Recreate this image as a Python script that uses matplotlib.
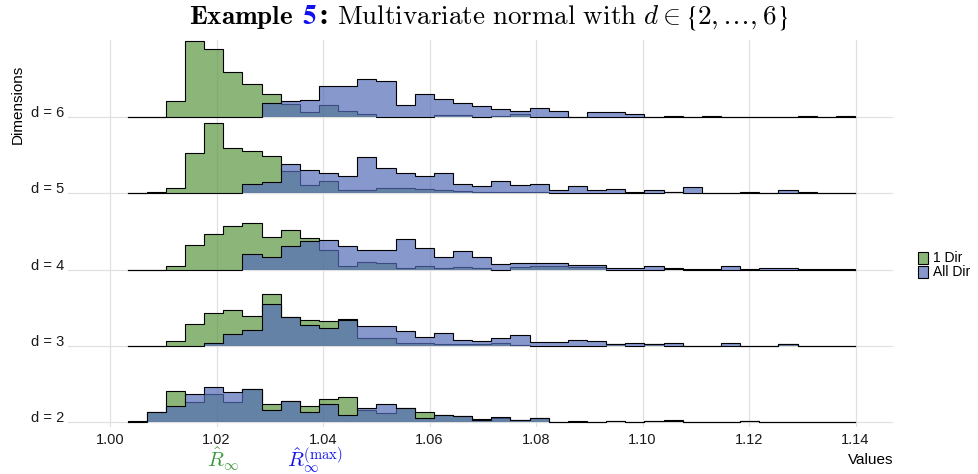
import numpy as np
import matplotlib
matplotlib.use("Agg")
import matplotlib.pyplot as plt
import matplotlib.transforms as mtransforms
from matplotlib.patches import Rectangle

plt.rcParams['font.family'] = ['Liberation Sans', 'DejaVu Sans']
plt.rcParams['mathtext.fontset'] = 'cm'

# histogram bins (shared by all ridges)
edges = np.linspace(1.0033, 1.1399, 39)

dims = ["d = 2", "d = 3", "d = 4", "d = 5", "d = 6"]
types = ["1 Dir", "All Dir"]

# bin heights, one list per dimension
one_dir = {
    "d = 2": [1, 10, 30.7, 19.7, 27.7, 19.7, 32.7, 17.7, 21, 16.3, 23, 24.7, 11.7, 9.3, 13.7, 10.3, 7.3, 6, 3.3,
              4.3, 2.3, 4.3, 0, 1, 0, 1, 0, 1, 2.3, 0, 0, 0, 1, 0, 0, 0, 0, 0],
    "d = 3": [0, 0, 5, 22, 33.3, 36, 29.7, 51.7, 29.3, 26.3, 24.7, 27, 8, 8, 3, 3, 1.7, 1.7, 1.7,
              2.7, 1, 0, 0, 0, 0, 2, 0, 2, 0, 0, 0, 0, 0, 0, 1.7, 0, 0, 0],
    "d = 4": [0, 0, 3.7, 25, 36, 44, 46.7, 33, 39.3, 31.7, 19.3, 3.7, 7.7, 6.7, 2, 4, 1.3, 2.3, 1.3,
              0, 2.7, 4, 4, 2.7, 2.7, 0, 0, 0, 1.7, 0, 0, 0, 0, 0, 0, 0, 0, 0],
    "d = 5": [0, 1.3, 5, 40.3, 70.3, 45.3, 42, 37.3, 22, 8, 12, 3.3, 3.3, 5, 5, 4, 3.3, 2, 1.3,
              1, 1, 1, 0, 0, 0, 0, 0, 0, 1.3, 0, 0, 0, 0, 0, 0, 0, 0, 0],
    "d = 6": [0, 0, 16, 76, 68.7, 45, 33, 23.7, 13.3, 5.3, 12.7, 6, 3.3, 0, 0, 0, 2.7, 2.7, 0,
              1.7, 3, 0, 0, 0, 0, 0, 0, 0, 0, 0, 0, 0, 0, 0, 0, 0, 0, 0],
}
all_dir = {
    "d = 2": [0, 10, 16.3, 27.7, 35.3, 30.3, 32.7, 11.7, 21, 10.3, 18, 7.3, 13.7, 18, 13.7, 4.3, 7.3, 6, 2.3,
              4.7, 2.3, 4.3, 0, 0, 0, 1, 0, 1, 1, 0, 0, 0, 1, 0, 0, 0, 0, 0],
    "d = 3": [0, 0, 0, 0, 3.3, 12.3, 15.7, 42.3, 28.7, 20.7, 17.7, 26.3, 20.3, 20.3, 15.3, 9.3, 13, 6.3, 5,
              8, 11, 3.7, 3.7, 6.3, 5, 2, 3.3, 2, 3.3, 0, 0, 3.3, 0, 0, 1.7, 0, 0, 0],
    "d = 4": [0, 0, 0, 0, 0, 0, 16, 13, 24, 28.7, 30, 24, 19.3, 19.3, 30.7, 21.3, 13, 19, 13,
              5.3, 6.7, 6.7, 6.7, 5, 5, 1.7, 1.7, 3.7, 1, 0.7, 0.7, 3.7, 0.7, 2, 2, 0.7, 0.7, 0.7],
    "d = 5": [0, 0, 0, 0, 0, 0, 9.3, 11, 29.3, 23.3, 20, 17.3, 36, 25.3, 20, 17.3, 20, 9, 7.7,
              12, 8, 9.3, 3, 7.7, 3, 4.7, 1.3, 3, 1.3, 6.7, 0, 0, 1.3, 0, 3, 1.3, 0, 0],
    "d = 6": [0, 0, 0, 0, 0, 0, 0, 14, 16, 17, 31.3, 31.3, 38.7, 36, 12.3, 23.7, 18.7, 14, 11,
              8, 6.3, 9.3, 6.7, 0, 5, 5, 3, 0, 1.7, 0, 1.7, 0, 0, 0, 0, 1.7, 0, 1.7],
}

xticks = [1.00, 1.02, 1.04, 1.06, 1.08, 1.10, 1.12, 1.14]
xticklabels = ["1.00", "1.02", "1.04", "1.06", "1.08", "1.10", "1.12", "1.14"]

green = "#5C9841"
blue = "#546CB9"
fill_cols = {"1 Dir": green, "All Dir": blue}
step = 76.2   # vertical distance between ridges

W, H = 979, 474
fig = plt.figure(figsize=(W / 100, H / 100), dpi=100)
ax = fig.add_axes([68 / W, 1 - 427 / H, (893 - 68) / W, (427 - 40) / H])

for i, d in enumerate(dims):
    base = i * step
    zb = 100 - i * 10
    for k, t in enumerate(types):
        h = np.array(one_dir[d] if t == "1 Dir" else all_dir[d], dtype=float)
        xs = np.repeat(edges, 2)
        ys = np.concatenate([[0], np.repeat(h, 2), [0]]) + base
        ax.fill(xs, ys, facecolor=fill_cols[t], alpha=0.7, edgecolor="none", zorder=zb + 2 * k)
        ax.plot(xs, ys, color="black", lw=0.8, zorder=zb + 2 * k + 1, solid_joinstyle="miter")

ax.set_xlim(1.0 - 42 / 5325, 1.0 + 783 / 5325)
ax.set_ylim(-5, 422 - 40)
ax.set_xticks(xticks)
ax.set_xticklabels(xticklabels)
ax.set_yticks([i * step for i in range(len(dims))])
ax.set_yticklabels(dims, va="baseline")
ax.tick_params(length=0, labelsize=10.5, colors="#1a1a1a", pad=4)
ax.tick_params(axis="y", pad=3)
ax.grid(True, color="#e0e0e0", lw=0.9, zorder=0)
ax.set_axisbelow(True)
for s in ax.spines.values():
    s.set_visible(False)

fig.text(18 / W, 1 - 104 / H, "Dimensions", rotation=90, ha="center", va="center", fontsize=11)
fig.text(893 / W, 1 - 460 / H, "Values", ha="right", va="center", fontsize=11)

# legend
for j, t in enumerate(types):
    y0 = 1 - (264 + 14 * j) / H
    fig.patches.append(Rectangle((918 / W, y0), 10 / W, 12 / H, transform=fig.transFigure,
                                 facecolor=fill_cols[t], alpha=0.7, edgecolor="none"))
    fig.patches.append(Rectangle((918 / W, y0), 10 / W, 12 / H, transform=fig.transFigure,
                                 facecolor="none", edgecolor="black", lw=0.8))
    fig.text(933 / W, y0 + 6 / H, t, ha="left", va="center", fontsize=10)

# annotations under the x axis
trans = mtransforms.blended_transform_factory(ax.transData, fig.transFigure)
ax.text(1.0212, 1 - 467 / H, r"$\hat{R}_{\infty}$", color="#3A9A3A", fontsize=15,
        ha="center", va="baseline", transform=trans)
ax.text(1.0385, 1 - 467 / H, r"$\hat{R}_{\infty}^{(\max)}$", color="#1010F0", fontsize=15,
        ha="center", va="baseline", transform=trans)

# title made of coloured pieces: (text, colour, gap after in px, math font)
pieces = [(r"$\mathbf{Example}$", "black", 9, "cm"),
          (r"$\mathbf{5}$", "#1010F0", 1, "stix"),
          (":", "black", 9, None),
          (r"$\mathrm{Multivariate\ normal\ with\ }d \in$", "black", 5, "cm"),
          (r"$\{$", "black", 0, "stix"),
          (r"$2,\ldots,6$", "black", 0, "cm"),
          (r"$\}$", "black", 0, "stix")]
renderer = fig.canvas.get_renderer()
objs, widths = [], []
for txt, col, gap, mf in pieces:
    if mf is None:
        o = fig.text(0, 1 - 24 / H, txt, color=col, fontsize=19.5, ha="left", va="baseline",
                     family="DejaVu Serif", weight="bold")
    else:
        o = fig.text(0, 1 - 24 / H, txt, color=col, fontsize=19.5, ha="left", va="baseline",
                     math_fontfamily=mf)
    objs.append(o)
    widths.append(o.get_window_extent(renderer).width + gap)
x = 489 - sum(widths) / 2
for o, w in zip(objs, widths):
    o.set_x(x / W)
    x += w

fig.savefig("out.png", dpi=100)
